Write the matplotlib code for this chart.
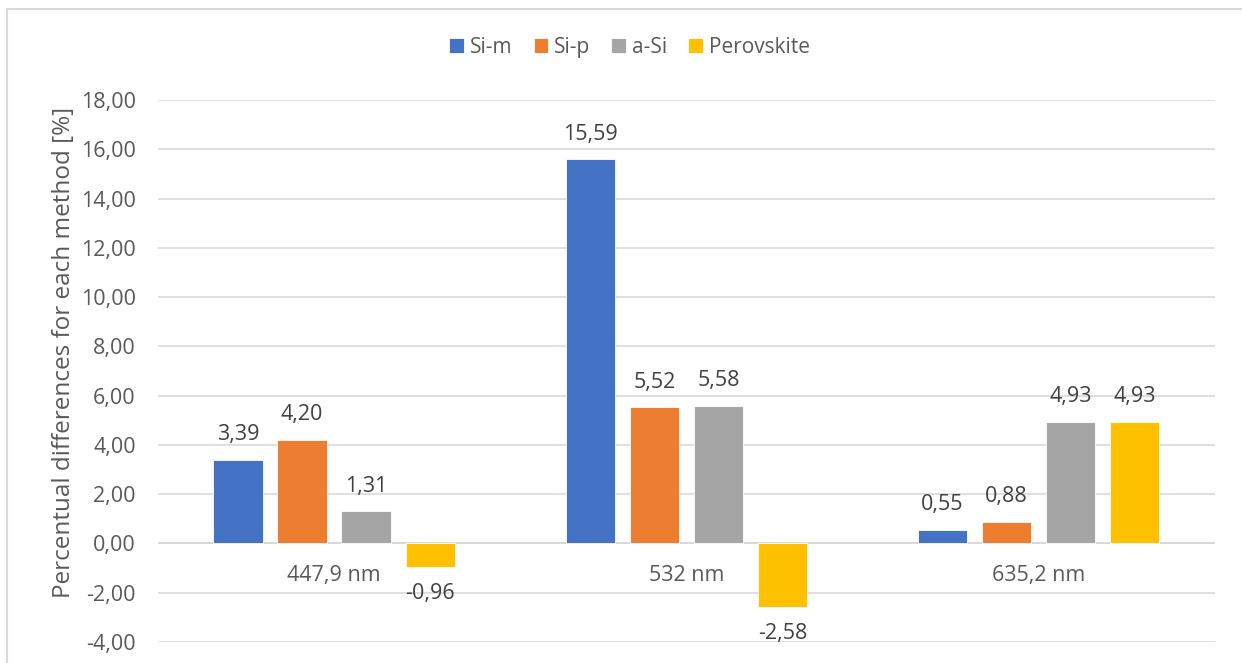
import matplotlib.pyplot as plt
import numpy as np

# data
categories = ["447,9 nm", "532 nm", "635,2 nm"]
series_names = ["Si-m", "Si-p", "a-Si", "Perovskite"]
si_m = [3.39, 15.59, 0.55]
si_p = [4.20, 5.52, 0.88]
a_si = [1.31, 5.58, 4.93]
perovskite = [-0.96, -2.58, 4.93]
colors = ["#4472C4", "#ED7D31", "#A5A5A5", "#FFC000"]
y_ticks = np.arange(-4, 19, 2)

TEXT = "#595959"
plt.rcParams["font.family"] = ["Open Sans", "DejaVu Sans"]
FS = 15.5


def fmt(v):
    return f"{v:.2f}".replace(".", ",")


def plot_chart():
    fig = plt.figure(figsize=(12.42, 6.63), dpi=100)
    # light outer border like the Excel chart area
    fig.patches.append(plt.Rectangle((0.006, -0.1), 1.1, 1.086, transform=fig.transFigure,
                                     fill=False, edgecolor="#D9D9D9", linewidth=1.5))
    ax = fig.add_axes([0.1272, 0.0317, 0.8508, 0.8175])

    x = np.arange(len(categories))
    width = 0.14
    step = 0.182
    all_series = [si_m, si_p, a_si, perovskite]
    for i, (name, vals, c) in enumerate(zip(series_names, all_series, colors)):
        pos = x + (i - 1.5) * step
        bars = ax.bar(pos, vals, width, color=c, label=name, edgecolor="white",
                      linewidth=0.6, zorder=3)
        for b, v in zip(bars, vals):
            off = 18 if v >= 0 else -19
            ax.annotate(fmt(v), (b.get_x() + b.get_width() / 2, v), xytext=(0, off),
                        textcoords="offset points", ha="center", va="center",
                        fontsize=FS, color="#404040")

    # category labels sit just under the zero line
    for xi, cat in zip(x, categories):
        ax.annotate(cat, (xi, 0), xytext=(0, -23), textcoords="offset points",
                    ha="center", va="center", fontsize=FS, color=TEXT)

    ax.set_xlim(-0.5, 2.5)
    ax.set_ylim(-4, 18)
    ax.set_yticks(y_ticks)
    ax.set_yticklabels([fmt(t) for t in y_ticks], fontsize=FS, color=TEXT)
    ax.set_xticks([])
    ax.tick_params(axis="y", length=0, pad=16)
    ax.grid(axis="y", color="#D9D9D9", linewidth=1.2, zorder=0)
    ax.axhline(0, color="#D9D9D9", linewidth=1.5, zorder=2)
    for s in ax.spines.values():
        s.set_visible(False)

    ax.set_ylabel("Percentual differences for each method [%]", fontsize=17.5, color=TEXT)
    ax.yaxis.set_label_coords(-0.078, 0.535)

    fig.legend(loc="center", bbox_to_anchor=(0.507, 0.929), ncol=4, frameon=False,
               fontsize=15, labelcolor=TEXT, handlelength=0.7, handleheight=0.7,
               handletextpad=0.3, columnspacing=1.0)

    fig.savefig("out.png", dpi=100)


if __name__ == "__main__":
    plot_chart()
